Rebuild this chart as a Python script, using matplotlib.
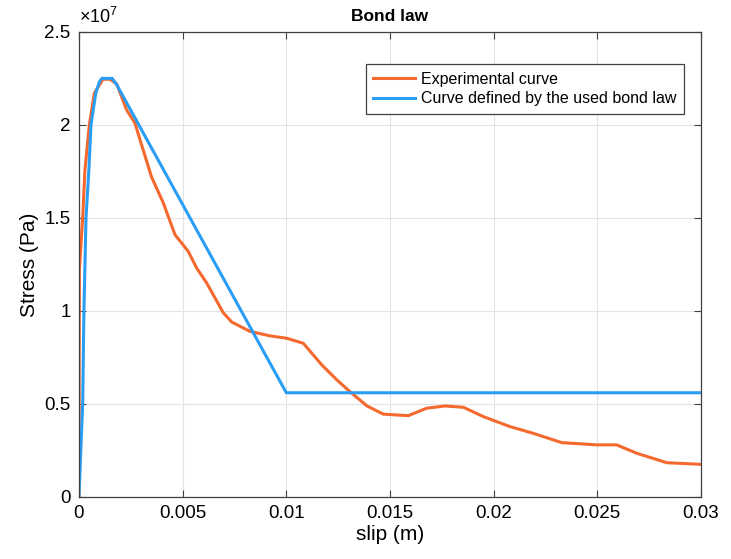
import numpy as np
import matplotlib
matplotlib.use("Agg")
import matplotlib.pyplot as plt
from matplotlib.ticker import FuncFormatter

plt.rcParams['font.family'] = ['Liberation Sans', 'DejaVu Sans']
plt.rcParams['mathtext.fontset'] = 'custom'
plt.rcParams['mathtext.rm'] = 'Liberation Sans'
plt.rcParams['mathtext.default'] = 'regular'

# experimental curve (slip in m, stress in Pa)
exp_slip = [0, 0.00002, 0.00018, 0.00029, 0.0005, 0.00074, 0.00116, 0.0015,
            0.00182, 0.0023, 0.0027, 0.003, 0.0035, 0.00407, 0.00463, 0.00527,
            0.00568, 0.00616, 0.00696, 0.00737, 0.00825, 0.00921, 0.01002,
            0.01082, 0.01171, 0.01243, 0.01307, 0.01388, 0.01468, 0.01588,
            0.01677, 0.01765, 0.01854, 0.0195, 0.02079, 0.02191, 0.02328,
            0.02497, 0.02593, 0.0269, 0.02835, 0.02987, 0.03]
exp_stress = [0, 1.22e7, 1.5e7, 1.76e7, 2.0e7, 2.17e7, 2.245e7, 2.245e7,
              2.22e7, 2.08e7, 2.01e7, 1.9e7, 1.72e7, 1.58e7, 1.41e7, 1.32e7,
              1.23e7, 1.15e7, 0.99e7, 0.94e7, 0.89e7, 0.866e7, 0.853e7,
              0.826e7, 0.71e7, 0.63e7, 0.566e7, 0.49e7, 0.445e7, 0.437e7,
              0.477e7, 0.489e7, 0.482e7, 0.432e7, 0.378e7, 0.342e7, 0.292e7,
              0.28e7, 0.28e7, 0.235e7, 0.184e7, 0.176e7, 0.175e7]

# bond law curve
law_slip = [0, 0.00018, 0.00024, 0.00034, 0.00048, 0.00058, 0.00081,
            0.00098, 0.0011, 0.0016, 0.0018, 0.01, 0.03]
law_stress = [0, 0.5e7, 1.0e7, 1.5e7, 1.76e7, 2.0e7, 2.17e7,
              2.23e7, 2.25e7, 2.25e7, 2.22e7, 0.56e7, 0.56e7]

fig = plt.figure(figsize=(7.31, 5.59), dpi=100)
ax = fig.add_axes([0.108, 0.111, 0.851, 0.832])

ax.plot(exp_slip, exp_stress, color='#f5692f', lw=2.2, label='Experimental curve')
ax.plot(law_slip, law_stress, color='#2a9df4', lw=2.2,
        label='Curve defined by the used bond law')

ax.set_xlim(0, 0.03)
ax.set_ylim(0, 2.5e7)
ax.set_xticks(np.arange(0, 0.0301, 0.005))
ax.set_yticks(np.arange(0, 2.51e7, 0.5e7))
ax.xaxis.set_major_formatter(FuncFormatter(lambda v, p: '%g' % round(v, 4)))
ax.yaxis.set_major_formatter(FuncFormatter(lambda v, p: '%g' % round(v / 1e7, 2)))
ax.tick_params(direction='in', top=True, right=True, labelsize=13.5,
               color='#404040', length=5, pad=6)
ax.grid(True, color='#e3e3e3', lw=0.8)
for s in ax.spines.values():
    s.set_color('#404040')
    s.set_linewidth(0.9)

ax.text(0.0, 1.01, r'$\times10^{7}$', transform=ax.transAxes, fontsize=13,
        ha='left', va='bottom')
ax.set_title('Bond law', fontsize=12.5, fontweight='bold', pad=8)
ax.set_xlabel('slip (m)', fontsize=15, labelpad=2)
ax.set_ylabel('Stress (Pa)', fontsize=15, labelpad=4)

leg = ax.legend(loc='upper right', bbox_to_anchor=(0.985, 0.947), fontsize=11.5,
                fancybox=False, framealpha=1, edgecolor='#404040',
                handlelength=2.6, handletextpad=0.4, borderpad=0.45,
                labelspacing=0.3)
leg.get_frame().set_linewidth(0.9)

fig.savefig('out.png', dpi=100)
